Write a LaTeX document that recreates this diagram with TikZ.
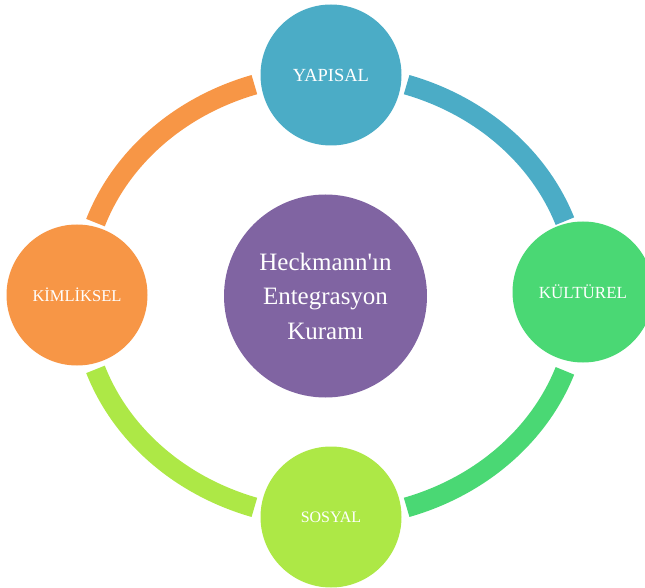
\documentclass[tikz,border=0pt]{standalone}
\usepackage{fontspec}
\setmainfont{Liberation Serif}
\definecolor{cblue}{HTML}{4BACC6}
\definecolor{corange}{HTML}{F79646}
\definecolor{cgreen}{HTML}{4AD874}
\definecolor{clime}{HTML}{ADE846}
\definecolor{cpurple}{HTML}{8064A2}
\begin{document}
\begin{tikzpicture}[x=1pt,y=1pt]
\tikzset{
  ringarc/.style={line width=20pt},
  bubble/.style={circle, inner sep=0pt, minimum size=141pt, text=white},
  hub/.style={circle, inner sep=0pt, minimum size=203pt, text=white, align=center,
    font=\fontsize{25}{34.5}\selectfont}
}
\useasboundingbox (0,0) rectangle (645,587);
\clip (0,0) rectangle (645,587);
\coordinate (c) at (330.5,291);
% ring arcs
\draw[ringarc, corange] ([shift={(107.8:249 and 222)}]c) coordinate (oa)
  arc[start angle=107.8, end angle=160.7, x radius=249, y radius=222] coordinate (ob);
\draw[ringarc, cblue] ([shift={(19.7:249 and 222)}]c) coordinate (ba)
  arc[start angle=19.7, end angle=72.2, x radius=249, y radius=222] coordinate (bb);
\draw[ringarc, cgreen] ([shift={(-72.2:249 and 222)}]c) coordinate (ga)
  arc[start angle=-72.2, end angle=-19.7, x radius=249, y radius=222] coordinate (gb);
\draw[ringarc, clime] ([shift={(199.3:249 and 222)}]c) coordinate (la)
  arc[start angle=199.3, end angle=252.2, x radius=249, y radius=222] coordinate (lb);
% nodes
\node[bubble, fill=cblue, font=\fontsize{18.5}{20}\selectfont] (top) at (331,512) {YAPISAL};
\node[bubble, fill=cgreen, font=\fontsize{17}{20}\selectfont] (right) at (583,295) {KÜLTÜREL};
\node[bubble, fill=clime, font=\fontsize{16}{20}\selectfont] (bottom) at (331,70) {SOSYAL};
\node[bubble, fill=corange, font=\fontsize{16.5}{20}\selectfont] (left) at (77,292) {KİMLİKSEL};
\node[hub, fill=cpurple] (center) at (325.5,291) {Heckmann\textquotesingle ın\\Entegrasyon\\Kuramı};
\end{tikzpicture}
\end{document}
